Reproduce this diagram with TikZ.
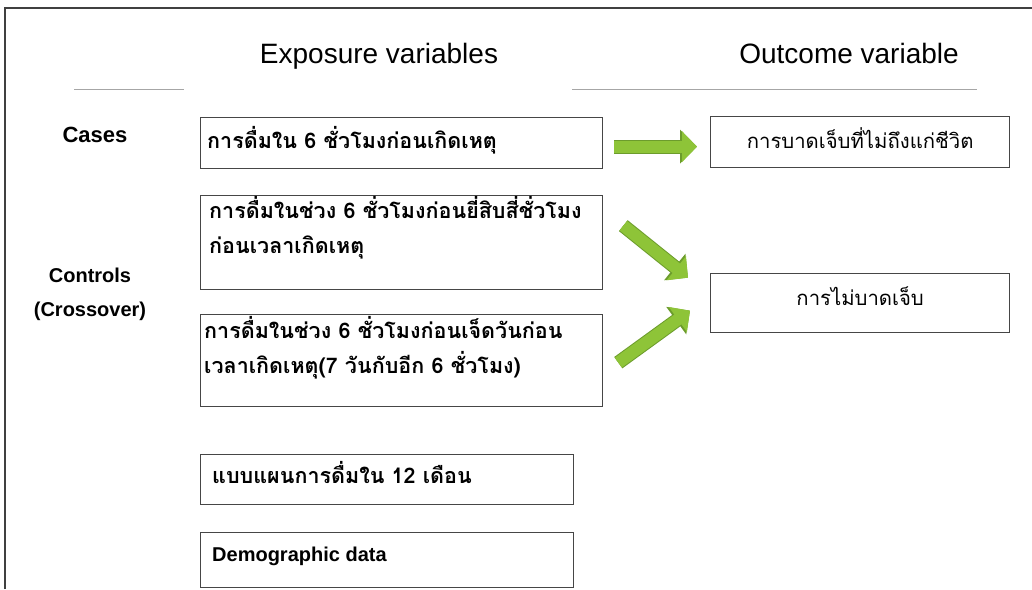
\documentclass[tikz,border=0pt]{standalone}
\usepackage{fontspec}
\setmainfont{Liberation Sans}
\newfontfamily\thaifont[Script=Thai]{Loma}
\usetikzlibrary{positioning,calc}
\usetikzlibrary{arrows.meta}

\definecolor{arrgreen}{RGB}{142,196,56}
\definecolor{arrdark}{RGB}{108,156,44}
\definecolor{boxgray}{RGB}{70,70,70}

\tikzset{
  expbox/.style={draw=boxgray, line width=1.3pt, anchor=north west, inner sep=0pt},
  thaitxt/.style={anchor=base west, inner sep=0pt, align=left,
    font=\thaifont\bfseries\fontsize{21.5}{35}\selectfont},
  outtxt/.style={anchor=base, inner sep=0pt, font=\thaifont\fontsize{20.3}{24}\selectfont},
  head/.style={anchor=base, inner sep=0pt, font=\fontsize{28}{34}\selectfont},
  grp/.style={anchor=base, inner sep=0pt, align=center, font=\bfseries\fontsize{20}{34}\selectfont},
  headrule/.style={gray!70, line width=0.8pt},
  fatarrow/.style={line width=12pt, arrgreen, -{Triangle[width=30pt,length=15pt]},
    preaction={draw=arrdark, line width=14pt, -{Triangle[width=33pt,length=17pt]}}},
}

\begin{document}
\begin{tikzpicture}[x=1pt,y=-1pt]
\useasboundingbox (0,0) rectangle (1032,589);

% Frame
\draw[line width=2pt, black!75] (5,589) -- (5,8) -- (1032,8);

% Column heads
\node[head] (exphead) at (379,63) {Exposure variables};
\node[head] (outhead) at (849,63) {Outcome variable};
\draw[headrule] (74,89) -- (184,89);
\draw[headrule] (572,89) -- (977,89);

% Groups
\node[grp, font=\bfseries\fontsize{22}{26}\selectfont] (cases) at (95,142) {Cases};
\node[grp] (controls) at (90,316) {Controls\\(Crossover)};

% Exposure boxes
\node[expbox, minimum width=402, minimum height=51] (exp6) at (200,117) {};
\node[expbox, minimum width=402, minimum height=94] (exp24) at (200,195) {};
\node[expbox, minimum width=402, minimum height=92] (exp7d) at (200,314) {};
\node[expbox, minimum width=373, minimum height=50] (pattern) at (200,454) {};
\node[expbox, minimum width=373, minimum height=55] (demog) at (200,532) {};

\node[thaitxt] (exp6txt) at ($(exp6.north west)+(7,31)$)
{การดื่มใน 6 ชั่วโมงก่อนเกิดเหตุ};
\node[thaitxt] (exp24txt) at ($(exp24.north west)+(9,58)$)
{การดื่มในช่วง 6 ชั่วโมงก่อนยี่สิบสี่ชั่วโมง\\ก่อนเวลาเกิดเหตุ};
\node[thaitxt] (exp7dtxt) at ($(exp7d.north west)+(4,59)$)
{การดื่มในช่วง 6 ชั่วโมงก่อนเจ็ดวันก่อน\\เวลาเกิดเหตุ(7 วันกับอีก 6 ชั่วโมง)};
\node[thaitxt] (patterntxt) at ($(pattern.north west)+(12,29)$)
{แบบแผนการดื่มใน 12 เดือน};
\node[thaitxt, font=\bfseries\fontsize{20}{24}\selectfont] (demogtxt)
at ($(demog.north west)+(12,29)$) {Demographic data};

% Outcome boxes
\node[expbox, minimum width=299, minimum height=51] (inj) at (710,116) {};
\node[expbox, minimum width=299, minimum height=59] (noinj) at (710,273) {};
\node[outtxt] (injtxt) at ($(inj.north)+(0,32)$) {การบาดเจ็บที่ไม่ถึงแก่ชีวิต};
\node[outtxt] (noinjtxt) at ($(noinj.north)+(0,32)$) {การไม่บาดเจ็บ};

% Arrows
\draw[fatarrow] ($(exp6.east)+(11,3.5)$) -- ($(inj.west)+(-13,4.5)$);
\draw[fatarrow] ($(exp24.east)+(20,-17)$) -- ($(noinj.west)+(-22,-25.5)$);
\draw[fatarrow] ($(exp7d.east)+(15,2)$) -- ($(noinj.west)+(-20,7.5)$);

\end{tikzpicture}
\end{document}
